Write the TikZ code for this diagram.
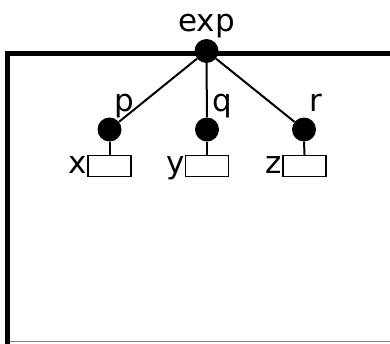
\documentclass[tikz,border=0pt]{standalone}
\usepackage{fontspec}
\setmainfont{DejaVu Sans}
\begin{document}
\begin{tikzpicture}[x=1pt,y=-1pt,
  dot/.style={circle,fill=black,inner sep=0pt,minimum size=24pt},
  slot/.style={draw=black,line width=1.3pt,fill=white,inner sep=0pt,minimum width=43pt,minimum height=21pt},
  lbl/.style={inner sep=0pt,font=\fontsize{31}{31}\selectfont},
  link/.style={line width=2pt},
  frame/.style={line width=5pt,line join=miter}]
\useasboundingbox (0,0) rectangle (390,343);
% enclosing frame
\draw[frame] (395,53.5) -- (7.5,53.5) -- (7.5,350);
\draw[gray,line width=1pt] (10,341.5) -- (395,341.5);
% root and children
\node[dot] (root) at (206.5,51) {};
\node[dot] (p) at (109.5,129.5) {};
\node[dot] (q) at (207,129.5) {};
\node[dot] (r) at (304,129.5) {};
\node[slot] (bx) at (109.5,166) {};
\node[slot] (by) at (207,166) {};
\node[slot] (bz) at (304.5,166) {};
\draw[link] (root) -- (p);
\draw[link] (root) -- (q);
\draw[link] (root) -- (r);
\draw[link] (p) -- (bx);
\draw[link] (q) -- (by);
\draw[link] (r) -- (bz);
% labels
\node[lbl,anchor=base] (lexp) at (206.5,31) {exp};
\node[lbl,anchor=base west] (lp) at ([xshift=5pt,yshift=18.5pt]p.center) {p};
\node[lbl,anchor=base west] (lq) at ([xshift=5.5pt,yshift=18.5pt]q.center) {q};
\node[lbl,anchor=base west] (lr) at ([xshift=5.5pt,yshift=18.5pt]r.center) {r};
\node[lbl,anchor=base east] (lx) at ([yshift=-7.5pt]bx.west) {x};
\node[lbl,anchor=base east] (ly) at ([yshift=-7.5pt]by.west) {y};
\node[lbl,anchor=base east] (lz) at ([yshift=-7.5pt]bz.west) {z};
\end{tikzpicture}
\end{document}
